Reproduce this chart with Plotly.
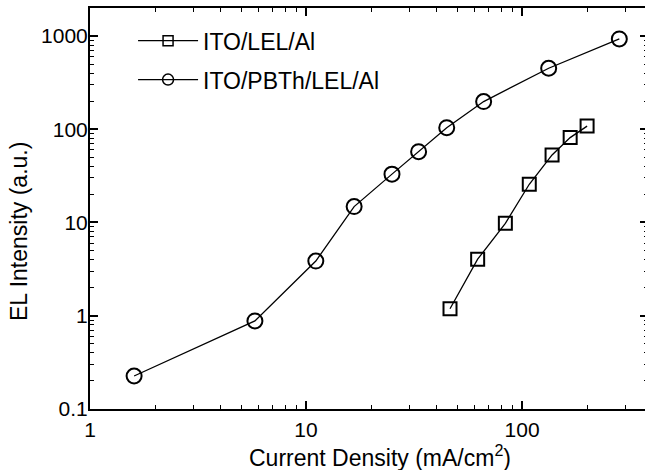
import plotly.graph_objects as go

# Data
x_lel = [46.4, 62.3, 83.7, 108, 137.7, 167, 200]
y_lel = [1.19, 4.04, 9.8, 25.7, 53, 81.3, 108]

x_pbth = [1.6, 5.8, 11.1, 16.7, 25.0, 33.2, 44.8, 66.4, 132.8, 282]
y_pbth = [0.226, 0.88, 3.86, 14.8, 33.0, 57.5, 104, 198, 451, 930]

series_names = ["ITO/LEL/Al", "ITO/PBTh/LEL/Al"]
x_tickvals = [1, 10, 100]
x_ticktext = ["1", "10", "100"]
y_tickvals = [0.1, 1, 10, 100, 1000]
y_ticktext = ["0.1", "1", "10", "100", "1000"]
x_minor = [m * d for d in (1, 10, 100) for m in range(2, 10) if m * d < 383]
y_minor = [m * d for d in (0.1, 1, 10, 100, 1000) for m in range(2, 10) if m * d < 1990]

FONT = "Liberation Sans, Arial, sans-serif"
W, H = 648, 470
ML, MR, MT, MB = 90, 0, 8, 61

fig = go.Figure()
fig.add_trace(go.Scatter(
    x=x_lel, y=y_lel, name=series_names[0], mode="lines+markers", showlegend=False,
    line=dict(color="black", width=1.3),
    marker=dict(symbol="square-open", size=13, color="black", line=dict(width=2)),
))
fig.add_trace(go.Scatter(
    x=x_pbth, y=y_pbth, name=series_names[1], mode="lines+markers", showlegend=False,
    line=dict(color="black", width=1.3),
    marker=dict(symbol="circle-open", size=15, color="black", line=dict(width=2)),
))
# legend entries (smaller symbols, as in the reference legend)
fig.add_trace(go.Scatter(
    x=[None], y=[None], name=series_names[0], mode="lines+markers", legendgroup="a",
    line=dict(color="black", width=1.3),
    marker=dict(symbol="square-open", size=10, color="black", line=dict(width=1.5)),
))
fig.add_trace(go.Scatter(
    x=[None], y=[None], name=series_names[1], mode="lines+markers", legendgroup="b",
    line=dict(color="black", width=1.3),
    marker=dict(symbol="circle-open", size=11, color="black", line=dict(width=1.5)),
))

axis_common = dict(
    showgrid=False, zeroline=False, showline=True, linecolor="black", linewidth=2,
    mirror="allticks", ticks="inside", ticklen=8, tickwidth=1.5, tickcolor="black",
    tickfont=dict(family=FONT, size=21, color="black"),
    automargin=False,
)

fig.update_xaxes(
    type="log", range=[0, 2.583], tickmode="array", tickvals=x_tickvals, ticktext=x_ticktext,
    ticklabelstandoff=1,
    minor=dict(tickmode="array", tickvals=x_minor, ticks="inside", ticklen=4,
               tickwidth=1, tickcolor="black", showgrid=False),
    **axis_common,
)
fig.update_yaxes(
    type="log", range=[-1, 3.3], tickmode="array", tickvals=y_tickvals, ticktext=y_ticktext,
    ticklabelstandoff=-4,
    minor=dict(tickmode="array", tickvals=y_minor, ticks="inside", ticklen=4,
               tickwidth=1, tickcolor="black", showgrid=False),
    **axis_common,
)

pw = W - ML - MR
ph = H - MT - MB
fig.add_annotation(
    text="Current Density (mA/cm<sup>2</sup>)", xref="paper", yref="paper",
    x=(380 - ML) / pw, y=(H - MB - 456) / ph,
    xanchor="center", yanchor="middle", showarrow=False,
    font=dict(family=FONT, size=23, color="black"),
)
fig.add_annotation(
    text="EL Intensity (a.u.)", xref="paper", yref="paper",
    x=(19 - ML) / pw, y=(H - MB - 232) / ph, textangle=-90,
    xanchor="center", yanchor="middle", showarrow=False,
    font=dict(family=FONT, size=23, color="black"),
)

fig.update_layout(
    width=W, height=H,
    margin=dict(l=ML, r=MR, t=MT, b=MB),
    paper_bgcolor="white", plot_bgcolor="white",
    showlegend=True,
    legend=dict(x=(94 - ML) / pw + 0.07, y=0.972, xanchor="left", yanchor="top",
                font=dict(family=FONT, size=23, color="black"),
                bgcolor="rgba(0,0,0,0)", itemwidth=60,
                traceorder="grouped", tracegroupgap=6),
    font=dict(family=FONT, color="black"),
)

fig.write_html(
    "out.html",
    config={"displayModeBar": False},
    post_script="document.body.style.margin='0';document.body.style.padding='0';document.body.style.overflow='hidden';",
)
